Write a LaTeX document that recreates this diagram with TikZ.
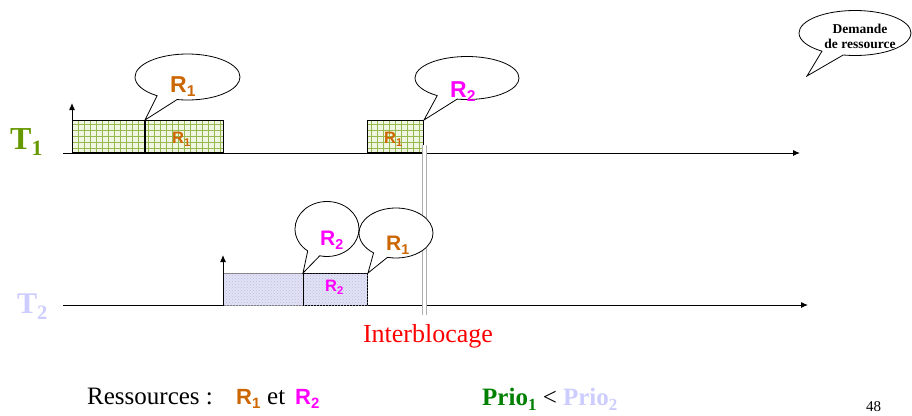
\documentclass[tikz,border=0pt]{standalone}
\usepackage{fontspec}
\setmainfont{Liberation Serif}
\setsansfont{Liberation Sans}
\usetikzlibrary{shapes.callouts,arrows.meta,patterns}

\definecolor{tonegreen}{RGB}{102,153,0}
\definecolor{prioone}{RGB}{0,128,0}
\definecolor{ttwo}{RGB}{204,204,255}
\definecolor{rone}{RGB}{204,102,0}
\definecolor{rtwo}{RGB}{255,0,255}
\definecolor{gridbg}{RGB}{240,246,226}
\definecolor{gridln}{RGB}{150,185,80}
\definecolor{dotbg}{RGB}{226,226,246}
\definecolor{dotfg}{RGB}{190,190,230}
\definecolor{sepgray}{RGB}{175,175,175}

% lowered index used in the labels
\newcommand\lowidx[1]{\raisebox{-0.2em}{\scalebox{0.68}{#1}}}
\newcommand\Rone{{\sffamily\bfseries\color{rone}R\lowidx{1}}}
\newcommand\Rtwo{{\sffamily\bfseries\color{rtwo}R\lowidx{2}}}

\begin{document}
\begin{tikzpicture}[x=1pt,y=-1pt,
  axis/.style={line width=1pt,-{Latex[length=7pt,width=6pt]}},
  tick/.style={line width=1pt,-{Latex[length=7pt,width=6pt]}},
  gridbox/.style={draw=black,line width=1pt,minimum height=32pt,inner sep=0,
    anchor=south west,fill=gridbg,
    path picture={\draw[gridln,line width=0.7pt,step=6pt]
      (path picture bounding box.south west) grid (path picture bounding box.north east);}},
  dotbox/.style={line width=1pt,minimum height=32pt,inner sep=0,
    anchor=south west,fill=dotbg,
    postaction={pattern=crosshatch dots,pattern color=dotfg}},
  bubble/.style={ellipse callout,draw=black,fill=white,line width=0.8pt,
    inner sep=0,callout pointer arc=24},
  tlabel/.style={anchor=base west,inner sep=0,font=\bfseries\fontsize{32}{34}\selectfont},
  boxlab/.style={anchor=base west,inner sep=0,font=\fontsize{16.5}{18}\selectfont},
  bublab/.style={anchor=base west,inner sep=0,font=\fontsize{23}{25}\selectfont},
  bottomtext/.style={anchor=base west,inner sep=0,font=\fontsize{25}{27}\selectfont}
]
\useasboundingbox (0,0) rectangle (912,415);

% time axes
\coordinate (t1s) at (63,153);
\coordinate (t1e) at (800,153);
\coordinate (t2s) at (63,305);
\coordinate (t2e) at (808,305);
\draw[axis] (t1s) -- (t1e);
\draw[axis] (t2s) -- (t2e);

% task names
\node[tlabel,text=tonegreen] (n1) at (10,149) {T\lowidx{1}};
\node[tlabel,text=ttwo,font=\bfseries\fontsize{30}{32}\selectfont] (n2) at (17,313) {T\lowidx{2}};

% task T1
\node[gridbox,minimum width=72pt] (b1) at (72,153) {};
\node[gridbox,minimum width=79pt] (b2) at (144,153) {};
\node[gridbox,minimum width=56pt] (b3) at (367,153) {};
\draw[line width=1.8pt] (b1.south east) -- (b1.north east);
\node[boxlab] (b2t) at (172,143) {\Rone};
\node[boxlab] (b3t) at (384,143) {\Rone};
\coordinate (a1) at (72,103);
\draw[tick] (b1.south west) -- (a1);

% task T2
\node[dotbox,draw=gray,minimum width=80pt] (b4) at (223,306) {};
\node[dotbox,draw=black,minimum width=64pt] (b5) at (303,306) {};
\node[boxlab] (b5t) at (325,291) {\Rtwo};
\coordinate (a2) at (223,255);
\draw[tick] (b4.south west) -- (a2);

% deadlock marker
\coordinate (dlt) at (424.5,145);
\coordinate (dlb) at (424.5,315);
\draw[sepgray,line width=1.1pt,double=white,double distance=2.2pt] (dlt) -- (dlb);
\node[anchor=base,inner sep=0,text=red,font=\fontsize{26}{28}\selectfont] (il) at (428,342) {Interblocage};

% resource requests
\node[bubble,minimum width=105pt,minimum height=46pt,
  callout absolute pointer={(b1.north east)}] (c1) at (187.5,77) {};
\node[bublab] (c1t) at (170,92) {\Rone};
\node[bubble,minimum width=104pt,minimum height=43pt,
  callout absolute pointer={(b3.north east)}] (c2) at (467,78) {};
\node[bublab] (c2t) at (450,97) {\Rtwo};
\node[bubble,minimum width=64pt,minimum height=55pt,
  callout absolute pointer={(b5.north west)}] (c3) at (327,229) {};
\node[bublab,font=\fontsize{21}{23}\selectfont] (c3t) at (320,245) {\Rtwo};
\node[bubble,minimum width=74pt,minimum height=50pt,
  callout absolute pointer={(b5.north east)}] (c4) at (396,233) {};
\node[bublab,font=\fontsize{21}{23}\selectfont] (c4t) at (386,250) {\Rone};

% legend bubble
\coordinate (lp) at (807,76);
\node[bubble,minimum width=112pt,minimum height=45pt,
  callout absolute pointer={(lp)}] (c5) at (855,33) {};
\node[inner sep=0,align=center,font=\bfseries\fontsize{13.5}{15}\selectfont] (c5t) at (860,36) {Demande\\de ressource};

% bottom line
\node[bottomtext] (res) at (87,404) {Ressources :};
\node[bottomtext,font=\fontsize{22}{24}\selectfont] (resa) at (236,404) {\Rone};
\node[bottomtext] (reset) at (267,404) {\rmfamily et};
\node[bottomtext,font=\fontsize{22}{24}\selectfont] (resb) at (295,404) {\Rtwo};
\node[bottomtext] (prio) at (482,405)
  {\textbf{\color{prioone}Prio\lowidx{1}} < \textbf{\color{ttwo}Prio\lowidx{2}}};
\node[anchor=base west,inner sep=0,font=\fontsize{15}{17}\selectfont] (pg) at (866,411) {48};
\end{tikzpicture}
\end{document}
